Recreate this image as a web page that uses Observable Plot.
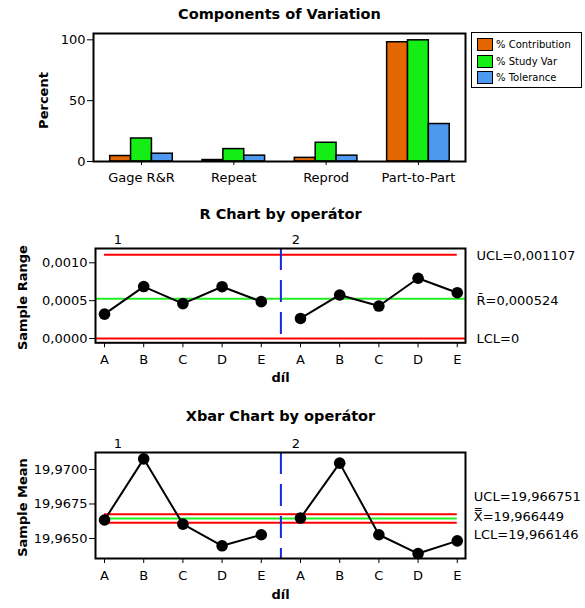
<!DOCTYPE html>
<html><head><meta charset="utf-8">
<script src="https://cdn.jsdelivr.net/npm/d3@7"></script>
<script src="https://cdn.jsdelivr.net/npm/@observablehq/plot@0.6"></script>
<style>
body{margin:0;background:#fff;}
#root{position:relative;width:585px;height:608px;overflow:hidden;font-family:"DejaVu Sans",sans-serif;background:#fff;}
.panel{position:absolute;left:0;}
.legend{position:absolute;left:471px;top:32px;width:111px;height:56px;border:1px solid #000;box-sizing:border-box;background:#fff;}
.item{position:absolute;left:5px;height:13px;font-size:10px;line-height:13px;color:#000;}
.sw{position:absolute;left:0;top:0;width:16px;height:13px;box-sizing:border-box;border:1.5px solid #000;}
.lab{position:absolute;left:19px;top:0;white-space:nowrap;}
</style></head><body><div id="root"></div>
<script>
// ---------- data ----------
const categories = ["Gage R&R", "Repeat", "Reprod", "Part-to-Part"];
const series = ["% Contribution", "% Study Var", "% Tolerance"];
const contribution = [4.5, 1.2, 3.0, 98.0];
const studyVar = [18.9, 10.2, 15.4, 99.6];
const tolerance = [6.4, 4.8, 4.8, 30.8];
const seriesColors = ["#E36600", "#14EE14", "#4D99F0"];

const parts = ["A", "B", "C", "D", "E"];
const operators = ["1", "2"];
const rangeValues = [0.000322, 0.000686, 0.000461, 0.000684, 0.000487, 0.000265, 0.000575, 0.000429, 0.000796, 0.000605];
const meanValues = [19.96634, 19.97077, 19.96604, 19.96447, 19.96527, 19.96648, 19.97046, 19.96527, 19.96391, 19.96483];
const rUCL = 0.001107, rCL = 0.000524, rLCL = 0;
const xUCL = 19.966751, xCL = 19.966449, xLCL = 19.966146;
const rTicks = [0, 0.0005, 0.001];
const xTicks = [19.965, 19.9675, 19.97];
const pctTicks = [0, 50, 100];

// ---------- helpers ----------
const RED = "#FF0000", GREEN = "#22EE22", BLUE = "#1428E0";
const comma = s => String(s).replace(".", ",");
const fmt4 = v => comma(d3.format(".4f")(v));
const baseStyle = {fontFamily: "DejaVu Sans", fontSize: "13px", color: "#000", background: "transparent", overflow: "visible"};
const root = document.getElementById("root");
function place(svg, top) { svg.classList.add("panel"); svg.style.top = top + "px"; root.appendChild(svg); }

// ---------- components of variation ----------
const seriesValues = [contribution, studyVar, tolerance];
const comp = [];
categories.forEach((c, i) => series.forEach((s, j) => comp.push({cat: c, i, s, j, v: seriesValues[j][i]})));
const barW = 0.226;
const p1 = Plot.plot({
  width: 585, height: 195, marginTop: 33, marginBottom: 34, marginLeft: 93, marginRight: 120,
  style: baseStyle,
  x: {domain: [-0.52, 3.51], axis: null},
  y: {domain: [0, 105.2], axis: null},
  color: {domain: series, range: seriesColors},
  marks: [
    Plot.rectY(comp, {x1: d => d.i + (d.j - 1.5) * barW, x2: d => d.i + (d.j - 0.5) * barW, y1: 0, y2: "v", fill: "s", stroke: "#000", strokeWidth: 1.5}),
    Plot.axisX({ticks: d3.range(categories.length), tickFormat: i => categories[i], tickSize: 4, tickPadding: 7, label: null}),
    Plot.axisY({ticks: pctTicks, tickSize: 6, tickPadding: 2, label: null}),
    Plot.frame({stroke: "#000", strokeWidth: 2}),
    Plot.text(["Percent"], {text: d => d, frameAnchor: "left", dx: -50, dy: 3, rotate: -90, textAnchor: "middle", lineAnchor: "middle", fontWeight: "bold", fontSize: 13}),
    Plot.text(["Components of Variation"], {text: d => d, frameAnchor: "top", dy: -19, lineAnchor: "middle", fontWeight: "bold", fontSize: 14.5})
  ]
});
place(p1, 0);

// legend
const leg = document.createElement("div");
leg.className = "legend";
const rowTops = [5, 21.7, 38.3];
series.forEach((s, j) => {
  const it = document.createElement("div");
  it.className = "item"; it.style.top = rowTops[j] + "px";
  it.innerHTML = `<div class="sw" style="background:${seriesColors[j]}"></div><div class="lab">${s}</div>`;
  leg.appendChild(it);
});
root.appendChild(leg);

// ---------- control chart builder ----------
function controlChart({values, top, height, mTop, mBottom, yDomain, ticks, tickFmt, ucl, cl, lcl, labels, labelDx, labelDys, title, yLabel, titleDy, dilDy, groupDy, fullCL}) {
  const data = values.map((v, k) => ({k: k + 1, op: operators[Math.floor(k / parts.length)], part: parts[k % parts.length], v}));
  const firstK = data[0].k, lastK = data[data.length - 1].k;
  const split = parts.length + 0.5;
  const groups = operators.map((o, g) => ({k: g * parts.length + 1, t: o}));
  const clOpts = fullCL ? {} : {x1: () => firstK, x2: () => lastK};
  const marks = [
    Plot.ruleY([ucl], {x1: () => firstK, x2: () => lastK, stroke: RED, strokeWidth: 2}),
    Plot.ruleY([cl], {...clOpts, stroke: GREEN, strokeWidth: 2}),
    Plot.ruleY([lcl], {...clOpts, stroke: RED, strokeWidth: 2}),
    Plot.ruleX([split], {stroke: BLUE, strokeWidth: 2, strokeDasharray: "22,10"}),
    Plot.line(data, {x: "k", y: "v", z: "op", stroke: "#000", strokeWidth: 2}),
    Plot.dot(data, {x: "k", y: "v", r: 5.8, fill: "#000"}),
    Plot.frame({stroke: "#000", strokeWidth: 2}),
    Plot.axisX({ticks: data.map(d => d.k), tickFormat: k => data[k - 1].part, tickSize: 5, tickPadding: 7, label: null}),
    Plot.axisY({ticks, tickFormat: tickFmt, tickSize: 6, tickPadding: 2, label: null}),
    Plot.text([title], {text: d => d, frameAnchor: "top", dy: titleDy, lineAnchor: "middle", fontWeight: "bold", fontSize: 14.5}),
    Plot.text(["díl"], {text: d => d, frameAnchor: "bottom", dy: dilDy, lineAnchor: "middle", fontWeight: "bold", fontSize: 13}),
    Plot.text([yLabel], {text: d => d, frameAnchor: "left", dx: -73, dy: 2, rotate: -90, textAnchor: "middle", lineAnchor: "middle", fontWeight: "bold", fontSize: 13}),
    Plot.text([groups[0]], {x: "k", text: "t", frameAnchor: "top", lineAnchor: "middle", dy: groupDy, dx: 13.3}),
    Plot.text([groups[1]], {x: "k", text: "t", frameAnchor: "top", lineAnchor: "middle", dy: groupDy, dx: -4.5})
  ];
  labels.forEach((l, idx) => {
    marks.push(Plot.text([l], {y: "v", text: "t", frameAnchor: "right", dx: labelDx, dy: labelDys[idx], textAnchor: "start", lineAnchor: "middle", fontSize: 13}));
  });
  const svg = Plot.plot({
    width: 585, height, marginTop: mTop, marginBottom: mBottom, marginLeft: 95, marginRight: 120,
    style: baseStyle,
    x: {domain: [0.77, 10.21], axis: null},
    y: {domain: yDomain, axis: null},
    marks
  });
  place(svg, top);
}

controlChart({
  values: rangeValues, top: 200, height: 190, mTop: 48, mBottom: 47.7,
  yDomain: [-0.0000568, 0.001189], ticks: rTicks, tickFmt: fmt4,
  ucl: rUCL, cl: rCL, lcl: rLCL,
  labels: [{v: rUCL, t: "UCL=" + comma(rUCL)}, {v: rCL, t: "R\u0304=" + comma(rCL)}, {v: rLCL, t: "LCL=" + comma(rLCL)}],
  labelDx: 11, labelDys: [1, 1.5, 0],
  title: "R Chart by operátor", yLabel: "Sample Range", titleDy: -34, dilDy: 34.7, groupDy: -8.3, fullCL: true
});

controlChart({
  values: meanValues, top: 400, height: 208, mTop: 52, mBottom: 50,
  yDomain: [19.96355, 19.97123], ticks: xTicks, tickFmt: fmt4,
  ucl: xUCL, cl: xCL, lcl: xLCL,
  labels: [{v: xUCL, t: "UCL=" + comma(xUCL)}, {v: xCL, t: "X\u033F=" + comma(xCL)}, {v: xLCL, t: "LCL=" + comma(xLCL)}],
  labelDx: 8.3, labelDys: [-17, -2, 12],
  title: "Xbar Chart by operátor", yLabel: "Sample Mean", titleDy: -36, dilDy: 36, groupDy: -9, fullCL: false
});
</script></body></html>
